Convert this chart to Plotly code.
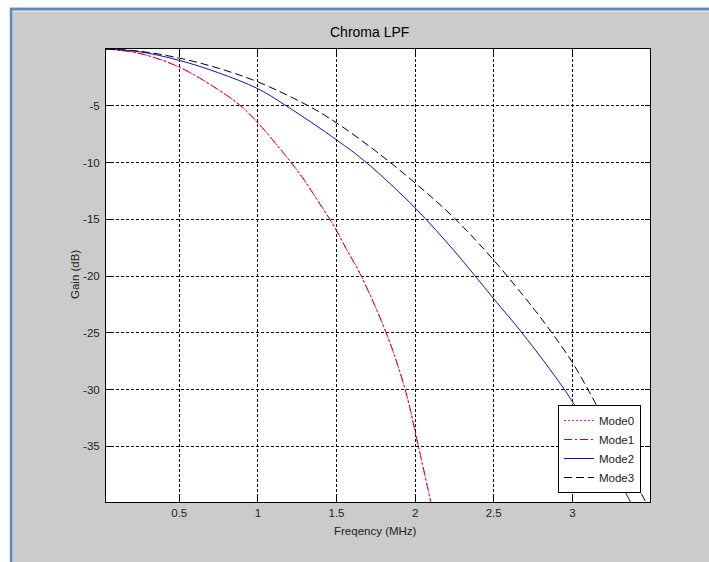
import plotly.graph_objects as go

# ---- data ----
x_mode01 = [0.034, 0.25, 0.5, 0.75, 0.89, 1.0, 1.165, 1.28, 1.385, 1.48, 1.566, 1.65, 1.816, 1.937, 2.021, 2.10]
y_mode01 = [0.0, -0.4, -1.6, -3.6, -5.0, -6.5, -9.2, -11.25, -13.45, -15.5, -17.7, -19.8, -25.0, -30.0, -35.0, -39.9]

x_mode2 = [0.034, 0.25, 0.5, 0.75, 1.0, 1.18, 1.5, 1.69, 2.0, 2.25, 2.5, 2.68, 2.95, 3.1, 3.25, 3.37]
y_mode2 = [0.0, -0.25, -1.0, -2.1, -3.5, -5.0, -8.0, -10.0, -14.0, -17.8, -22.0, -25.0, -30.0, -33.3, -36.8, -39.9]

x_mode3 = [0.034, 0.25, 0.5, 0.75, 1.0, 1.32, 1.5, 1.75, 2.0, 2.25, 2.5, 2.75, 2.87, 3.0, 3.1, 3.2, 3.3, 3.4, 3.467]
y_mode3 = [0.0, -0.2, -0.8, -1.7, -2.9, -5.0, -6.5, -9.0, -11.8, -14.9, -18.6, -22.8, -25.0, -27.6, -30.0, -32.6, -35.3, -38.1, -39.9]

x_ticks = [0.5, 1, 1.5, 2, 2.5, 3]
x_ticklabels = ["0.5", "1", "1.5", "2", "2.5", "3"]
y_ticks = [-35, -30, -25, -20, -15, -10, -5]
y_ticklabels = ["-35", "-30", "-25", "-20", "-15", "-10", "-5"]

series_names = ["Mode0", "Mode1", "Mode2", "Mode3"]

# page body margin is removed by the post script, so the figure sits at (0, 0)
OFF = 0
W, H = 709 - OFF, 562 - OFF
L, R, T, B = 106, 59, 49, 60
pw, ph = W - L - R, H - T - B

def px2paper_x(page_px):
    return (page_px - OFF - L) / pw

def px2paper_y(page_py):
    return (H - B - (page_py - OFF)) / ph

FONT = "Liberation Sans, Arial, sans-serif"

fig = go.Figure()
fig.add_trace(go.Scatter(x=x_mode01, y=y_mode01, name=series_names[0], mode="lines",
                         line=dict(color="#ff00ff", width=1, dash="2px,2px", shape="spline")))
fig.add_trace(go.Scatter(x=x_mode01, y=y_mode01, name=series_names[1], mode="lines",
                         line=dict(color="#e00000", width=1, dash="8px,3px,2px,3px", shape="spline")))
fig.add_trace(go.Scatter(x=x_mode2, y=y_mode2, name=series_names[2], mode="lines",
                         line=dict(color="#1010c8", width=1, shape="spline")))
fig.add_trace(go.Scatter(x=x_mode3, y=y_mode3, name=series_names[3], mode="lines",
                         line=dict(color="#000000", width=1, dash="8px,4px", shape="spline")))

axis_common = dict(
    showline=True, linecolor="black", linewidth=1, mirror="ticks",
    ticks="inside", ticklen=5, tickcolor="black",
    showgrid=True, gridcolor="black", gridwidth=1, griddash="3px,2px",
    zeroline=False, tickfont=dict(family=FONT, size=11.5, color="#222222"),
)

fig.update_layout(
    width=W, height=H,
    margin=dict(l=L, r=R, t=T, b=B, pad=0),
    paper_bgcolor="#cbcbcb",
    plot_bgcolor="white",
    showlegend=True,
    xaxis=dict(range=[0.034, 3.494], tickvals=x_ticks, ticktext=x_ticklabels, **axis_common),
    yaxis=dict(range=[-39.9, 0.0], tickvals=y_ticks, ticktext=y_ticklabels,
               ticklabelstandoff=3, **axis_common),
    legend=dict(
        x=px2paper_x(641), y=px2paper_y(493), xanchor="right", yanchor="bottom",
        bgcolor="white", bordercolor="black", borderwidth=1,
        font=dict(family=FONT, size=11.5, color="#222222"),
        tracegroupgap=0, itemwidth=30,
    ),
    shapes=[
        # white page strips outside the grey window
        dict(type="rect", xref="paper", yref="paper", x0=px2paper_x(-2), x1=px2paper_x(10),
             y0=px2paper_y(570), y1=px2paper_y(-2), fillcolor="white", line=dict(width=0)),
        dict(type="rect", xref="paper", yref="paper", x0=px2paper_x(-2), x1=px2paper_x(720),
             y0=px2paper_y(7.5), y1=px2paper_y(-2), fillcolor="white", line=dict(width=0)),
        # blue window border
        dict(type="line", xref="paper", yref="paper", x0=px2paper_x(11), x1=px2paper_x(11),
             y0=px2paper_y(570), y1=px2paper_y(8), line=dict(color="#5b88c6", width=2.5)),
        dict(type="line", xref="paper", yref="paper", x0=px2paper_x(10), x1=px2paper_x(720),
             y0=px2paper_y(9), y1=px2paper_y(9), line=dict(color="#5b88c6", width=2.5)),
        dict(type="line", xref="paper", yref="paper", x0=px2paper_x(13), x1=px2paper_x(720),
             y0=px2paper_y(11.5), y1=px2paper_y(11.5), line=dict(color="#e2e2e2", width=1)),
    ],
    annotations=[
        dict(text="Chroma LPF", xref="paper", yref="paper", x=px2paper_x(369), y=px2paper_y(32),
             xanchor="center", yanchor="middle", showarrow=False,
             font=dict(family=FONT, size=14, color="black")),
        dict(text="Freqency (MHz)", xref="paper", yref="paper", x=px2paper_x(375), y=px2paper_y(531),
             xanchor="center", yanchor="middle", showarrow=False,
             font=dict(family=FONT, size=11.5, color="#222222")),
        dict(text="Gain (dB)", xref="paper", yref="paper", x=px2paper_x(75), y=px2paper_y(275),
             xanchor="center", yanchor="middle", showarrow=False, textangle=-90,
             font=dict(family=FONT, size=11.5, color="#222222")),
    ],
)

fig.write_html("out.html",
               config={"displayModeBar": False},
               post_script="document.body.style.margin='0';"
                           "document.documentElement.style.overflow='hidden';"
                           "document.body.style.overflow='hidden';")
